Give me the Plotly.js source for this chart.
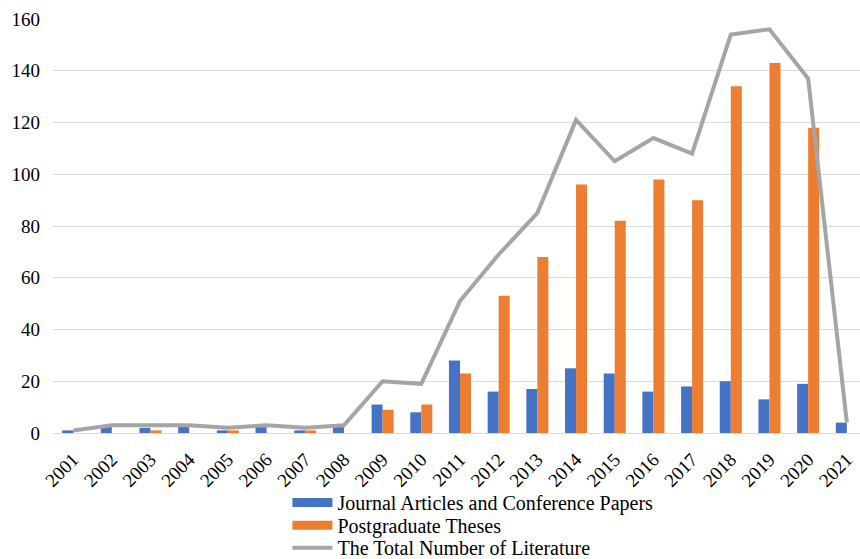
<!DOCTYPE html>
<html>
<head>
<meta charset="utf-8">
<script src="https://cdn.plot.ly/plotly-3.0.1.min.js"></script>
<style>html,body{margin:0;padding:0;background:#fff;}#chart{width:860px;height:559px;}</style>
</head>
<body>
<div id="chart"></div>
<script>
const years = ["2001","2002","2003","2004","2005","2006","2007","2008","2009","2010","2011","2012","2013","2014","2015","2016","2017","2018","2019","2020","2021"];
const journalPapers = [1,3,2,3,1,3,1,3,11,8,28,16,17,25,23,16,18,20,13,19,4];
const theses = [0,0,1,0,1,0,1,0,9,11,23,53,68,96,82,98,90,134,143,118,0];
const totals = [1,3,3,3,2,3,2,3,20,19,51,69,85,121,105,114,108,154,156,137,4];
const yTicks = [0,20,40,60,80,100,120,140,160];
const seriesNames = ["Journal Articles and Conference Papers", "Postgraduate Theses", "The Total Number of Literature"];
const seriesColors = ["#4472C4", "#ED7D31", "#A5A5A5"];

const family = "'Liberation Serif', 'Times New Roman', Times, serif";
const tickFont = {family: family, size: 19, color: "#000"};
const legendFont = {family: family, size: 20, color: "#000"};

const data = [
  {type: "bar", name: seriesNames[0], x: years, y: journalPapers, marker: {color: seriesColors[0]}, showlegend: false},
  {type: "bar", name: seriesNames[1], x: years, y: theses, marker: {color: seriesColors[1]}, showlegend: false},
  {type: "scatter", mode: "lines", name: seriesNames[2], x: years, y: totals, line: {color: seriesColors[2], width: 4}, legend: "legend3"},
  // legend-only proxies so the bar keys are drawn as wide rectangles like the reference
  {type: "scatter", mode: "lines", name: seriesNames[0], x: [null], y: [null], line: {color: seriesColors[0], width: 9}, legend: "legend", hoverinfo: "skip"},
  {type: "scatter", mode: "lines", name: seriesNames[1], x: [null], y: [null], line: {color: seriesColors[1], width: 9}, legend: "legend2", hoverinfo: "skip"}
];

function leg(y) {
  return {orientation: "v", x: 0.2905, xanchor: "left", y: y, yanchor: "middle", font: legendFont, itemwidth: 40, bgcolor: "rgba(0,0,0,0)"};
}

const layout = {
  width: 860, height: 559,
  margin: {l: 53, r: 0, t: 19, b: 126, autoexpand: false},
  paper_bgcolor: "#fff", plot_bgcolor: "#fff",
  font: tickFont,
  barmode: "group",
  bargap: 0.43,
  bargroupgap: 0,
  showlegend: true,
  legend: leg(-0.1680),
  legend2: leg(-0.2230),
  legend3: leg(-0.2770),
  xaxis: {type: "category", range: [-0.52, 20.34], tickangle: -45, showgrid: false, zeroline: false, showline: false, ticks: "outside", ticklen: 7, tickcolor: "rgba(0,0,0,0)", tickfont: tickFont, automargin: false, fixedrange: true},
  yaxis: {range: [0, 160], tickvals: yTicks, ticktext: yTicks.map(String), showgrid: true, gridcolor: "#D9D9D9", gridwidth: 1, zeroline: true, zerolinecolor: "#D9D9D9", zerolinewidth: 1, showline: false, ticks: "", tickfont: tickFont, ticklabelstandoff: 12, automargin: false, fixedrange: true}
};

Plotly.newPlot("chart", data, layout, {displayModeBar: false, staticPlot: true});
</script>
</body>
</html>
